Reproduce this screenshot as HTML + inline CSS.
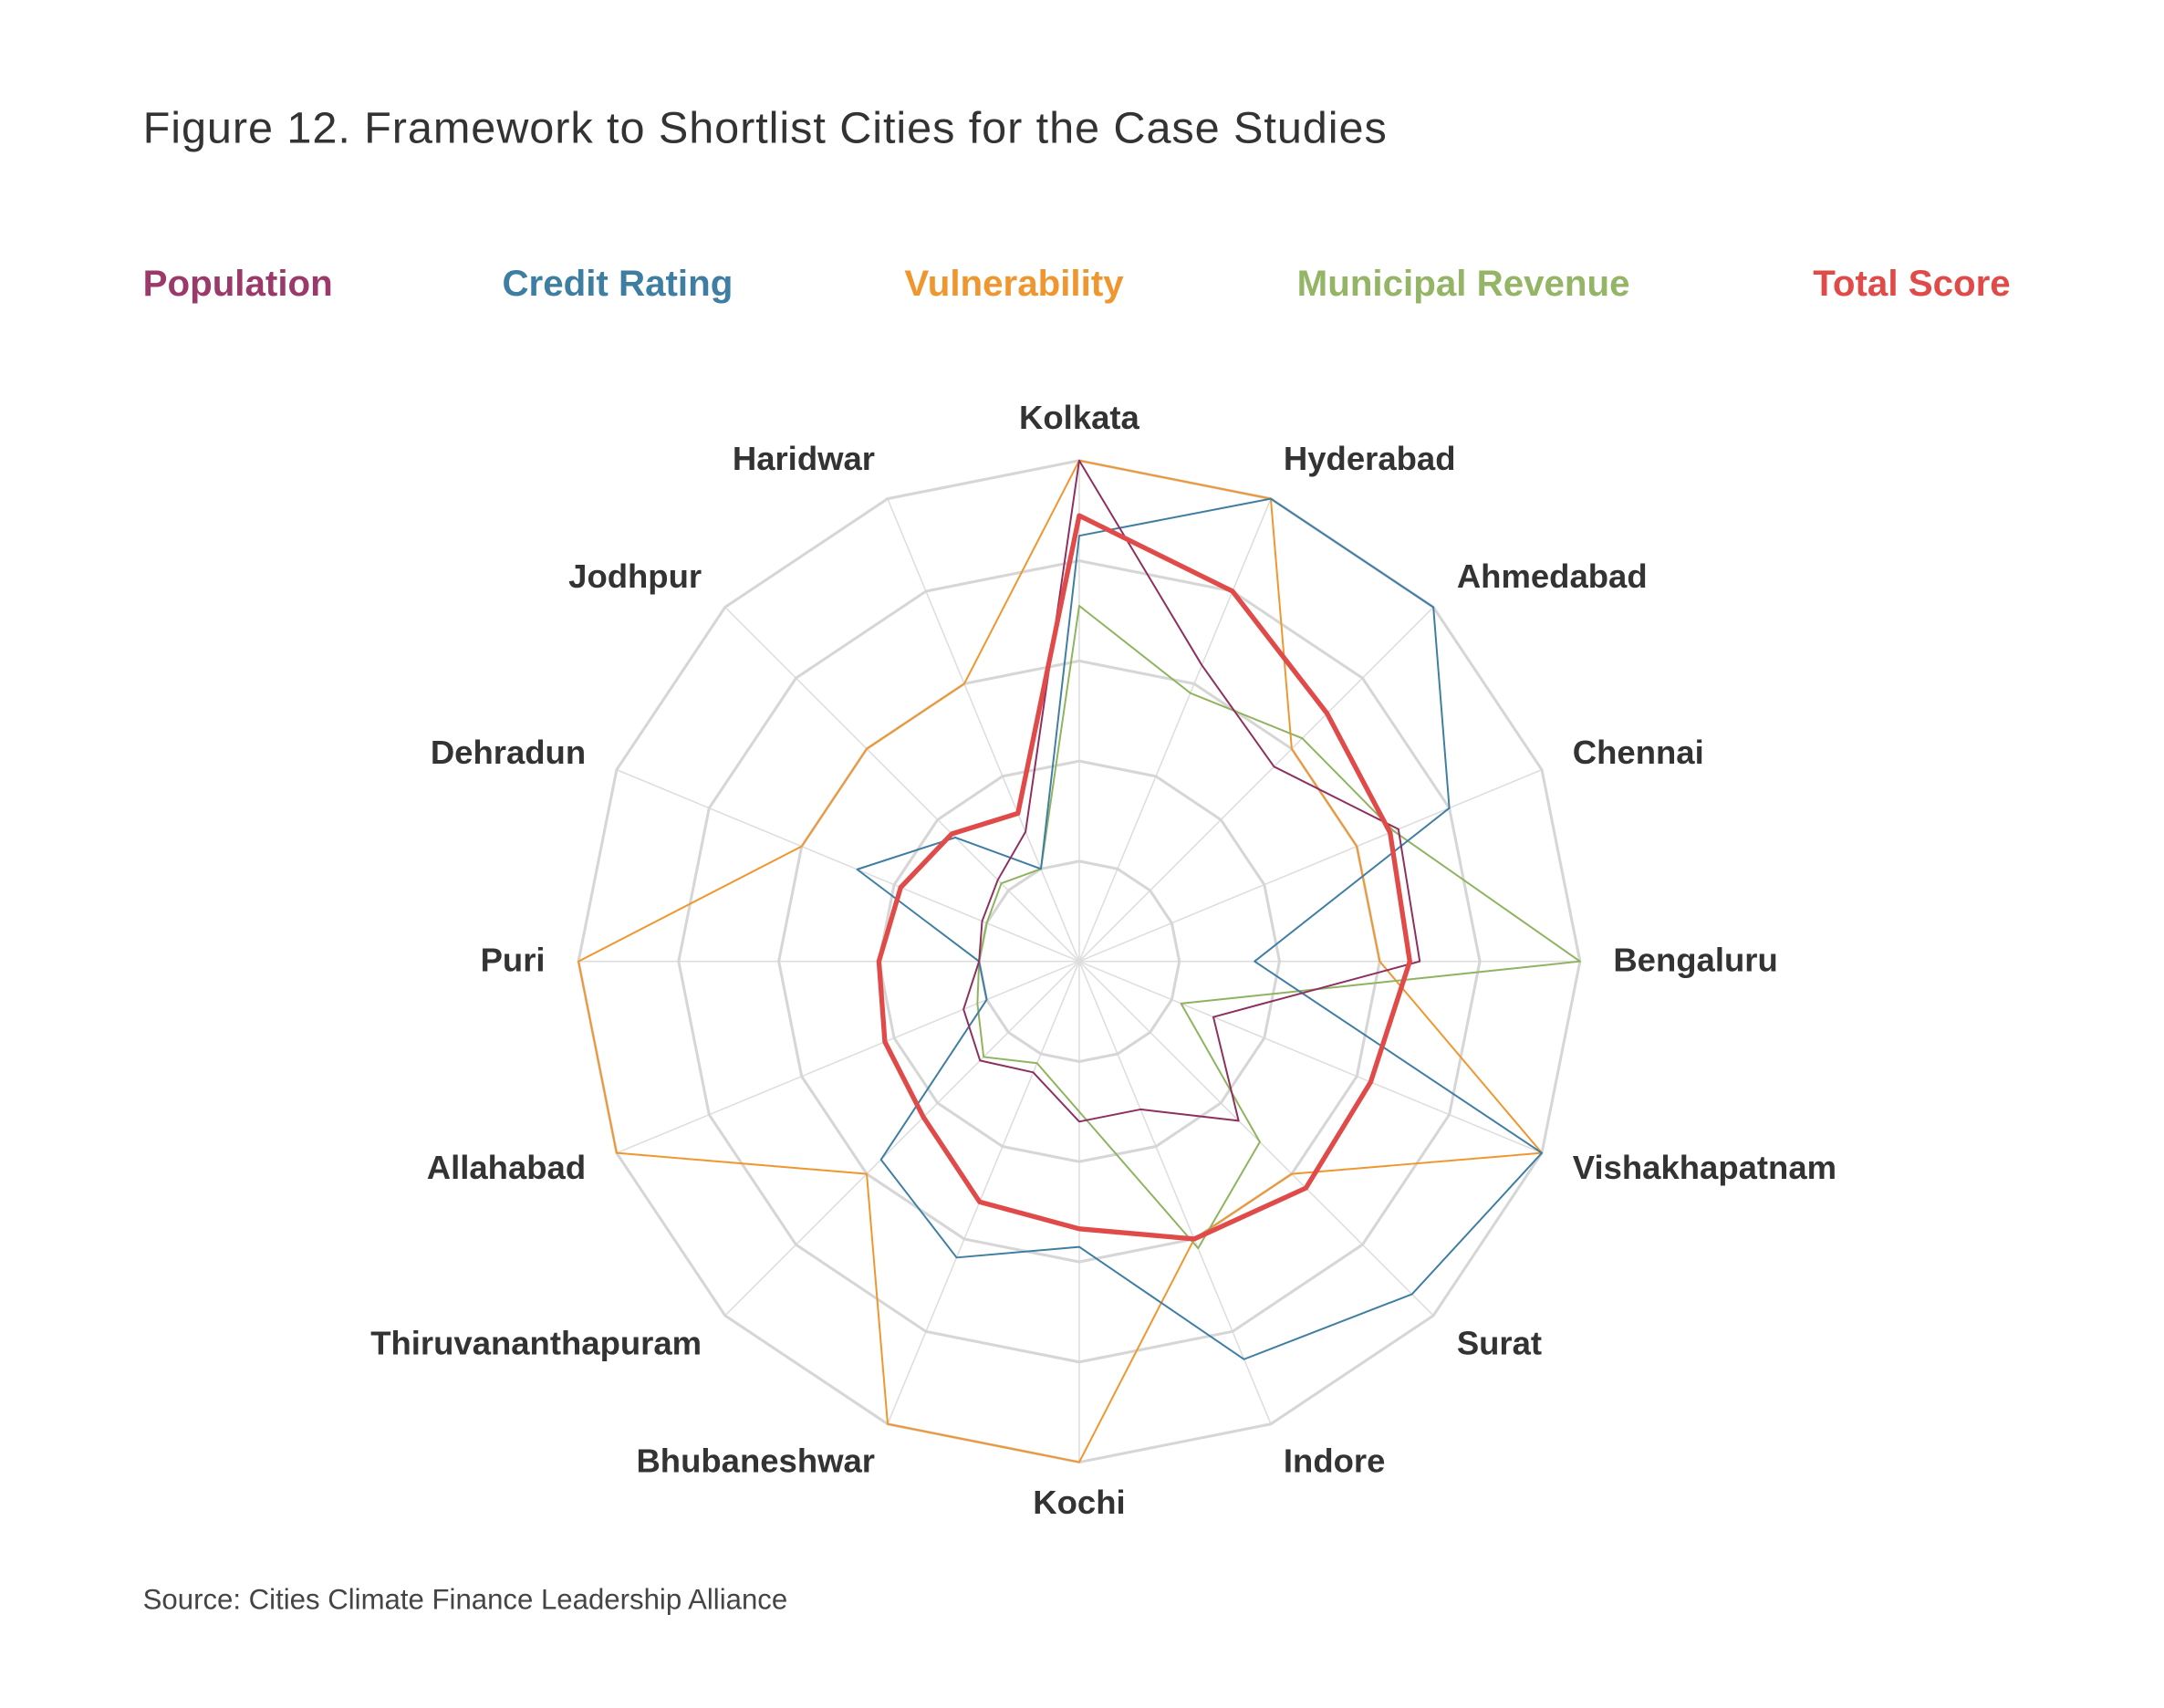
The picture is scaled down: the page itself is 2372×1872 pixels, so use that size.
<!DOCTYPE html>
<html><head><meta charset="utf-8"><style>
html,body{margin:0;padding:0;background:#fff;}
svg{display:block;font-family:"Liberation Sans",sans-serif;}
</style></head><body>
<svg id="chart" width="2372" height="1872" viewBox="0 0 1560 1231.2" xmlns="http://www.w3.org/2000/svg">
<text x="103" y="103" font-size="32" letter-spacing="0.6" fill="#333">Figure 12. Framework to Shortlist Cities for the Case Studies</text>
<g font-size="26.5" font-weight="bold">
<text x="103" y="213" fill="#9b3a6a">Population</text>
<text x="362" y="213" fill="#3f7ea3">Credit Rating</text>
<text x="652" y="213" fill="#f0962e">Vulnerability</text>
<text x="935" y="213" fill="#93b565">Municipal Revenue</text>
<text x="1307" y="213" fill="#e04b4a">Total Score</text>
</g>
<g id="grid"></g>
<g id="series"></g>
<g id="labels" font-size="24" font-weight="bold" fill="#333"></g>
<text x="103" y="1160" font-size="20.5" fill="#444">Source: Cities Climate Finance Leadership Alliance</text>
</svg>
<script>
const categories = ["Kolkata","Hyderabad","Ahmedabad","Chennai","Bengaluru","Vishakhapatnam","Surat","Indore","Kochi","Bhubaneshwar","Thiruvananthapuram","Allahabad","Puri","Dehradun","Jodhpur","Haridwar"];
const population = [5,3.2,2.75,3.45,3.4,1.45,2.25,1.6,1.6,1.2,1.4,1.25,1,1.05,1.15,1.4];
const creditRating = [4.25,5,5,4,1.75,5,4.7,4.3,2.85,3.2,2.8,1,1,2.4,1.75,1];
const vulnerability = [5,5,3,3,3,5,3,3,5,5,3,5,5,3,3,3];
const municipalRevenue = [3.55,2.9,3.15,3.4,5,1.1,2.55,3.1,1.5,1.1,1.35,1.1,1,1,1.1,1];
const totalScore = [4.45,4,3.5,3.36,3.3,3.15,3.2,3,2.67,2.6,2.2,2.1,2,1.93,1.8,1.6];
const ringLevels = [1,2,3,4,5];

const NS="http://www.w3.org/2000/svg";
const cx=778, cy=693, R=361, maxV=5;
const n=categories.length;
function ang(i){return i*2*Math.PI/n;}
function px(i,v){return cx+R*(v/maxV)*Math.sin(ang(i));}
function py(i,v){return cy-R*(v/maxV)*Math.cos(ang(i));}
function poly(vals){return vals.map((v,i)=>px(i,v).toFixed(1)+","+py(i,v).toFixed(1)).join(" ");}

const grid=document.getElementById('grid');
categories.forEach((c,i)=>{
  const l=document.createElementNS(NS,'line');
  
  
  l.setAttribute('x1',cx);l.setAttribute('y1',cy);
  l.setAttribute('x2',px(i,maxV));l.setAttribute('y2',py(i,maxV));
  l.setAttribute('stroke','#ddd');l.setAttribute('stroke-width','1');
  grid.appendChild(l);
});
ringLevels.forEach(r=>{
  const p=document.createElementNS(NS,'polygon');
  
  
  p.setAttribute('points',poly(categories.map(()=>r)));
  p.setAttribute('fill','none');p.setAttribute('stroke','#d6d6d6');p.setAttribute('stroke-width','2');
  grid.appendChild(p);
});

const series=document.getElementById('series');
function addSeries(name,vals,color,w){
  const p=document.createElementNS(NS,'polygon');
  
  
  p.setAttribute('points',poly(vals));
  p.setAttribute('fill','none');p.setAttribute('stroke',color);p.setAttribute('stroke-width',w);
  p.setAttribute('stroke-linejoin','round');
  series.appendChild(p);
}
addSeries('series-vulnerability',vulnerability,'#f0962e',1.3);
addSeries('series-municipal-revenue',municipalRevenue,'#8fb35e',1.3);
addSeries('series-credit-rating',creditRating,'#3f7ea3',1.3);
addSeries('series-population',population,'#8e2f5e',1.3);
addSeries('series-total-score',totalScore,'#e04b4a',3.5);

const labels=document.getElementById('labels');
categories.forEach((c,i)=>{
  const s=Math.sin(ang(i)), co=Math.cos(ang(i));
  const t=document.createElementNS(NS,'text');
  
  
  t.setAttribute('x',(cx+(R+24)*s).toFixed(1));
  t.setAttribute('y',(cy-(R+30)*co+7).toFixed(1));
  t.setAttribute('text-anchor',s>0.1?'start':(s<-0.1?'end':'middle'));
  t.textContent=c;
  labels.appendChild(t);
});
</script>
</body></html>
